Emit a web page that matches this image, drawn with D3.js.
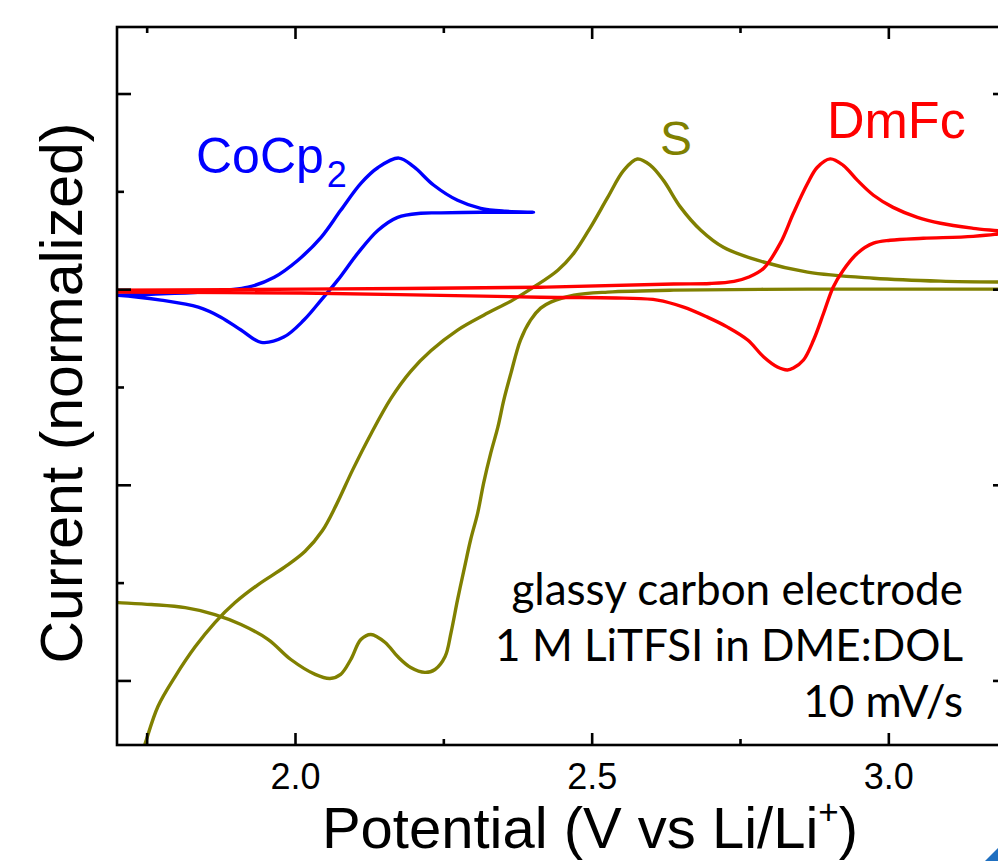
<!DOCTYPE html>
<html>
<head>
<meta charset="utf-8">
<script src="https://cdn.jsdelivr.net/npm/d3@7"></script>
<style>
  html, body { margin: 0; padding: 0; background: #fff; overflow: hidden; }
  svg { display: block; }
</style>
</head>
<body>
<svg id="chart" width="998" height="861"></svg>
<script>
// ---------- data (Potential in V vs Li/Li+, normalized current) ----------
const seriesNames = ["S", "CoCp2", "DmFc"];

const cocp2 = [
  [1.690,-0.033],[1.702,-0.031],[1.758,-0.026],[1.842,-0.015],[1.921,0.010],[1.965,0.061],
  [2.005,0.148],[2.044,0.265],[2.077,0.403],[2.111,0.541],[2.140,0.622],[2.175,0.670],
  [2.200,0.626],[2.234,0.531],[2.274,0.454],[2.313,0.413],[2.355,0.398],[2.402,0.393],
  [2.355,0.393],[2.313,0.393],[2.246,0.390],[2.212,0.388],[2.173,0.367],[2.140,0.301],
  [2.106,0.184],[2.072,0.046],[2.044,-0.056],[2.015,-0.158],[1.981,-0.245],[1.943,-0.272],
  [1.909,-0.209],[1.875,-0.143],[1.837,-0.092],[1.774,-0.056],[1.702,-0.031],[1.690,-0.030]
];

const dmfc = [
  [1.690,-0.005],[2.010,0.000],[2.414,0.010],[2.638,0.026],[2.700,0.029],[2.740,0.040],
  [2.765,0.062],[2.790,0.107],[2.818,0.235],[2.840,0.388],[2.864,0.541],[2.880,0.622],
  [2.902,0.666],[2.924,0.633],[2.948,0.556],[2.975,0.480],[3.008,0.418],[3.049,0.367],
  [3.088,0.337],[3.143,0.311],[3.200,0.291],
  [3.143,0.270],[3.059,0.260],[3.003,0.250],[2.975,0.235],[2.948,0.184],[2.924,0.097],
  [2.907,0.010],[2.891,-0.122],[2.874,-0.260],[2.857,-0.362],[2.840,-0.403],[2.830,-0.413],
  [2.813,-0.398],[2.790,-0.347],[2.763,-0.260],[2.729,-0.194],[2.695,-0.143],[2.655,-0.092],
  [2.611,-0.056],[2.554,-0.046],[2.414,-0.041],[2.010,-0.020],[1.690,-0.015]
];

const sCathodic = [
  [3.200,0.000],[3.088,0.000],[2.864,0.000],[2.638,-0.005],[2.527,-0.015],[2.470,-0.031],
  [2.431,-0.066],[2.414,-0.097],[2.397,-0.158],[2.380,-0.260],[2.364,-0.429],[2.352,-0.566],
  [2.342,-0.704],[2.330,-0.837],[2.318,-0.990],[2.308,-1.143],[2.296,-1.281],[2.286,-1.418],
  [2.274,-1.587],[2.263,-1.755],[2.253,-1.878],[2.236,-1.944],[2.219,-1.959],[2.195,-1.934],
  [2.173,-1.878],[2.152,-1.806],[2.128,-1.765],[2.111,-1.791],[2.094,-1.893],[2.077,-1.969],
  [2.059,-1.990],[2.034,-1.969],[1.993,-1.893],[1.955,-1.791],[1.909,-1.714],[1.865,-1.663],
  [1.815,-1.628],[1.758,-1.612],[1.702,-1.602],[1.680,-1.598]
];

const sAnodic = [
  [1.736,-2.429],[1.747,-2.327],[1.769,-2.133],[1.798,-1.980],[1.832,-1.827],[1.865,-1.704],
  [1.899,-1.602],[1.938,-1.510],[1.983,-1.420],[2.017,-1.340],[2.046,-1.235],[2.070,-1.100],
  [2.097,-0.925],[2.128,-0.740],[2.162,-0.557],[2.195,-0.420],[2.229,-0.315],[2.274,-0.209],
  [2.318,-0.133],[2.367,-0.056],[2.402,0.010],[2.443,0.097],[2.470,0.184],[2.498,0.316],
  [2.527,0.469],[2.554,0.607],[2.577,0.665],[2.599,0.633],[2.621,0.556],[2.650,0.418],
  [2.684,0.301],[2.722,0.214],[2.779,0.148],[2.864,0.087],[2.975,0.056],[3.088,0.041],
  [3.200,0.036]
];

const xMajorTicks = [2.0, 2.5, 3.0];
const xMajorLabels = ["2.0", "2.5", "3.0"];
const xMinorTicks = [1.75, 2.25, 2.75];
const yMajorTicks = [-2, -1, 0, 1];
const yMinorTicks = [-1.5, -0.5, 0.5];
const annotationLines = ["glassy carbon electrode", "1 M LiTFSI in DME:DOL", "10 mV/s"];

// ---------- layout ----------
const svg = d3.select("#chart");
const L = 117, R = 1007, T = 27, B = 745;
const x = d3.scaleLinear().domain([1.7, 3.2]).range([L, R]);
const y = d3.scaleLinear().domain([-2.33, 1.34]).range([B, T]);
const font = "'Liberation Sans', Arial, Helvetica, sans-serif";

svg.append("defs").append("clipPath").attr("id", "plotclip")
  .append("rect").attr("x", L).attr("y", T).attr("width", R - L).attr("height", B - T);

// ---------- curves ----------
const line = d3.line().x(d => x(d[0])).y(d => y(d[1])).curve(d3.curveCatmullRom.alpha(0.5));
const curves = svg.append("g").attr("clip-path", "url(#plotclip)");
const styles = [
  {data: sCathodic, color: "#808000"},
  {data: sAnodic, color: "#808000"},
  {data: cocp2, color: "#0000ff"},
  {data: dmfc, color: "#ff0000"}
];
styles.forEach(s => {
  curves.append("path").attr("d", line(s.data)).attr("fill", "none")
    .attr("stroke", s.color).attr("stroke-width", 3.4).attr("stroke-linejoin", "round");
});

// ---------- axes ----------
const axStroke = 2.6;
function styleAxis(g) {
  g.selectAll("path.domain").remove();
  g.selectAll("line").attr("stroke", "#000").attr("stroke-width", axStroke);
}
// bottom
svg.append("g").attr("transform", `translate(0,${B})`)
  .call(d3.axisBottom(x).tickValues(xMajorTicks).tickFormat((d, i) => xMajorLabels[i])
    .tickSizeInner(-12).tickSizeOuter(0).tickPadding(18))
  .call(styleAxis)
  .call(g => g.selectAll("text").attr("font-family", font).attr("font-size", 36).attr("fill", "#000"));
svg.append("g").attr("transform", `translate(0,${B})`)
  .call(d3.axisBottom(x).tickValues([1.75]).tickFormat("").tickSizeInner(-12).tickSizeOuter(0))
  .call(styleAxis);
svg.append("g").attr("transform", `translate(0,${B})`)
  .call(d3.axisBottom(x).tickValues([2.25, 2.75]).tickFormat("").tickSizeInner(-6).tickSizeOuter(0))
  .call(styleAxis);
// top
svg.append("g").attr("transform", `translate(0,${T})`)
  .call(d3.axisTop(x).tickValues(xMajorTicks).tickFormat("").tickSizeInner(-12).tickSizeOuter(0))
  .call(styleAxis);
svg.append("g").attr("transform", `translate(0,${T})`)
  .call(d3.axisTop(x).tickValues(xMinorTicks).tickFormat("").tickSizeInner(-6).tickSizeOuter(0))
  .call(styleAxis);
// left
svg.append("g").attr("transform", `translate(${L},0)`)
  .call(d3.axisLeft(y).tickValues(yMajorTicks).tickFormat("").tickSizeInner(-14).tickSizeOuter(0))
  .call(styleAxis);
svg.append("g").attr("transform", `translate(${L},0)`)
  .call(d3.axisLeft(y).tickValues(yMinorTicks).tickFormat("").tickSizeInner(-7).tickSizeOuter(0))
  .call(styleAxis);
// right
svg.append("g").attr("transform", `translate(${R},0)`)
  .call(d3.axisRight(y).tickValues(yMajorTicks).tickFormat("").tickSizeInner(-14).tickSizeOuter(0))
  .call(styleAxis);
svg.append("g").attr("transform", `translate(${R},0)`)
  .call(d3.axisRight(y).tickValues(yMinorTicks).tickFormat("").tickSizeInner(-7).tickSizeOuter(0))
  .call(styleAxis);

// frame
svg.append("rect").attr("x", L).attr("y", T).attr("width", R - L).attr("height", B - T)
  .attr("fill", "none").attr("stroke", "#000").attr("stroke-width", axStroke);

// ---------- axis titles ----------
const xt = svg.append("text").attr("x", 590).attr("y", 848).attr("text-anchor", "middle")
  .attr("font-family", font).attr("font-size", 58).attr("fill", "#000");
xt.append("tspan").text("Potential (V vs Li/Li");
xt.append("tspan").attr("font-size", 35).attr("dy", -24).text("+");
xt.append("tspan").attr("dy", 24).text(")");

svg.append("text").attr("transform", "translate(82,393) rotate(-90)").attr("text-anchor", "middle")
  .attr("font-family", font).attr("font-size", 59).attr("fill", "#000")
  .text("Current (normalized)");

// ---------- series labels ----------
const lab1 = svg.append("text").attr("x", 196).attr("y", 173)
  .attr("font-family", font).attr("font-size", 50).attr("fill", "#0000ff");
lab1.append("tspan").text("CoCp");
lab1.append("tspan").attr("font-size", 36).attr("dx", 3).attr("dy", 14).text("2");

svg.append("text").attr("x", 660).attr("y", 155)
  .attr("font-family", font).attr("font-size", 48).attr("fill", "#808000").text(seriesNames[0]);

svg.append("text").attr("x", 827).attr("y", 138)
  .attr("font-family", font).attr("font-size", 52).attr("fill", "#ff0000").text(seriesNames[2]);

// ---------- annotation ----------
const annFont = "Lato, 'Open Sans', sans-serif";
annotationLines.forEach((t, i) => {
  svg.append("text").attr("x", 963).attr("y", 605 + i * 56).attr("text-anchor", "end")
    .attr("font-family", annFont).attr("font-size", 44).attr("fill", "#000").text(t);
});

// ---------- corner decoration ----------
svg.append("path").attr("d", "M985,861 L998,848 L998,861 Z").attr("fill", "#1f6fc0");
</script>
</body>
</html>
